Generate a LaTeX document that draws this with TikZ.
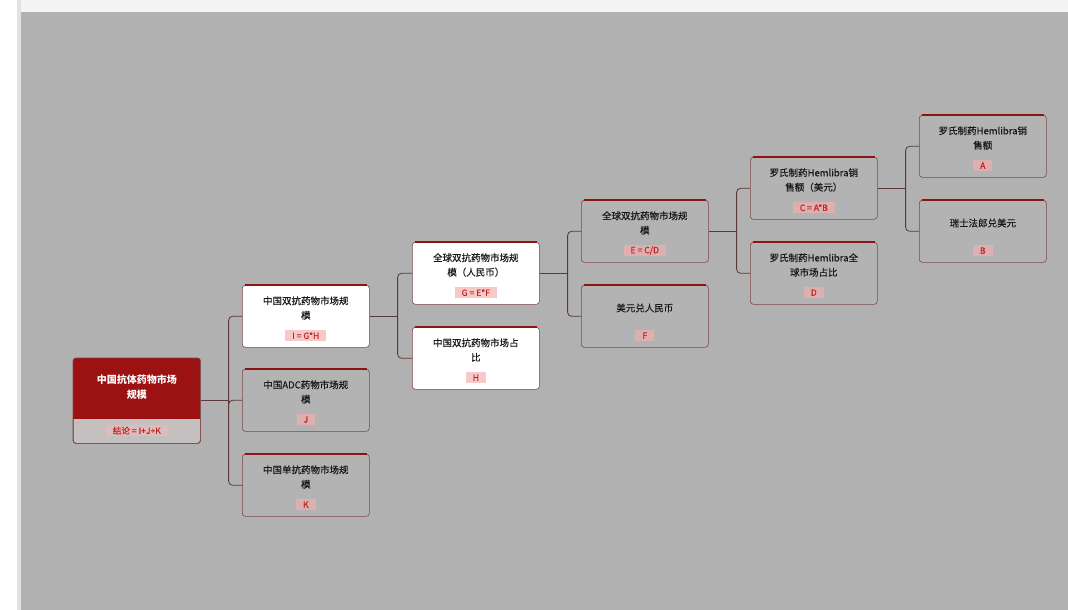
\documentclass[tikz,border=0pt]{standalone}
\usepackage{fontspec}
\setmainfont{Noto Sans CJK SC}
\newfontfamily\cardfont[FakeBold=0.35]{Noto Sans CJK SC}
\usetikzlibrary{positioning,calc}

\definecolor{canvasgray}{HTML}{B1B1B1}
\definecolor{stripgray}{HTML}{F4F4F4}
\definecolor{edgegray}{HTML}{E2E2E2}
\definecolor{cardline}{HTML}{7E4646}
\definecolor{topred}{HTML}{8E1414}
\definecolor{rootred}{HTML}{9C1212}
\definecolor{rootlow}{HTML}{C4C0C0}
\definecolor{tagpink}{HTML}{F5ADAD}
\definecolor{tagtext}{HTML}{BA2626}
\definecolor{linkbrown}{HTML}{5C3838}
\definecolor{cardgray}{HTML}{B3B3B3}

\tikzset{
    card/.style={draw=cardline, line width=0.6pt, rounded corners=3pt,
        minimum width=127pt, minimum height=62pt, inner sep=0pt, anchor=north west},
    topline/.style={draw=topred, line width=2pt},
    title/.style={align=center, text=black!90, font=\cardfont\fontsize{9.5}{14.5}\selectfont},
    tag/.style={fill=tagpink, fill opacity=0.65, text opacity=1, text=tagtext,
        inner xsep=7pt, inner ysep=0pt, minimum height=11.5pt,
        font=\cardfont\fontsize{8.6}{9}\selectfont},
    link/.style={draw=linkbrown, line width=0.8pt, rounded corners=4pt}
}

% name, left, top, fill, title, tag
\newcommand{\topicbox}[6]{%
    \node[card, fill=#4] (#1) at (#2,#3) {};
    \draw[topline] ([xshift=2.5pt]#1.north west) -- ([xshift=-2.5pt]#1.north east);
    \node[title] (#1-title) at ([yshift=-23pt]#1.north) {#5};
    \node[tag] (#1-tag) at ([yshift=12pt]#1.south) {#6};
}

\begin{document}
\begin{tikzpicture}[x=1pt,y=-1pt]
    % page
    \useasboundingbox (0,0) rectangle (1068,610);
    \fill[white] (0,0) rectangle (1068,610);
    \fill[stripgray] (20,0) rectangle (1068,12);
    \fill[edgegray] (17,0) rectangle (21,610);
    \fill[canvasgray] (21,12) rectangle (1068,610);

    % root
    \node[card, fill=rootlow, minimum height=85pt] (root) at (73,358) {};
    \begin{scope}
        \clip[rounded corners=3pt] (root.north west) rectangle (root.south east);
        \fill[rootred] (root.north west) rectangle ([yshift=25pt]root.south east);
    \end{scope}
    \draw[cardline, line width=0.6pt, rounded corners=3pt]
        (root.north west) rectangle (root.south east);
    \node[title, text=white, font=\bfseries\fontsize{10}{15}\selectfont]
        (root-title) at ([yshift=-29pt]root.north) {中国抗体药物市场\\规模};
    \node[tag, fill=tagpink!80!rootred!60] (root-tag) at ([yshift=13pt]root.south) {结论 = I+J+K};

    % level 1
    \topicbox{i}{242}{285}{white}{中国双抗药物市场规\\模}{I = G*H}
    \topicbox{j}{242}{369}{cardgray}{中国ADC药物市场规\\模}{J}
    \topicbox{k}{242}{454}{cardgray}{中国单抗药物市场规\\模}{K}

    % level 2
    \topicbox{g}{412}{242}{white}{全球双抗药物市场规\\模（人民币）}{G = E*F}
    \topicbox{h}{412}{327}{white}{中国双抗药物市场占\\比}{H}

    % level 3
    \topicbox{e}{581}{200}{cardgray}{全球双抗药物市场规\\模}{E = C/D}
    \topicbox{f}{581}{285}{cardgray}{美元兑人民币}{F}

    % level 4
    \topicbox{c}{750}{157}{cardgray}{罗氏制药Hemlibra销\\售额（美元）}{C = A*B}
    \topicbox{d}{750}{242}{cardgray}{罗氏制药Hemlibra全\\球市场占比}{D}

    % level 5
    \topicbox{a}{919}{115}{cardgray}{罗氏制药Hemlibra销\\售额}{A}
    \topicbox{b}{919}{200}{cardgray}{瑞士法郎兑美元}{B}

    % links
    \coordinate (root-fork) at ([xshift=28pt]root.east);
    \coordinate (i-fork) at ([xshift=28pt]i.east);
    \coordinate (g-fork) at ([xshift=28pt]g.east);
    \coordinate (e-fork) at ([xshift=28pt]e.east);
    \coordinate (c-fork) at ([xshift=28pt]c.east);
    \draw[link] (root.east) -- (root-fork);
    \draw[link] (i.east) -- (i-fork);
    \draw[link] (g.east) -- (g-fork);
    \draw[link] (e.east) -- (e-fork);
    \draw[link] (c.east) -- (c-fork);
    \foreach \kid in {i,j,k}
        \draw[link] (root-fork) |- (\kid.west);
    \foreach \kid in {g,h}
        \draw[link] (i-fork) |- (\kid.west);
    \foreach \kid in {e,f}
        \draw[link] (g-fork) |- (\kid.west);
    \foreach \kid in {c,d}
        \draw[link] (e-fork) |- (\kid.west);
    \foreach \kid in {a,b}
        \draw[link] (c-fork) |- (\kid.west);
\end{tikzpicture}
\end{document}
